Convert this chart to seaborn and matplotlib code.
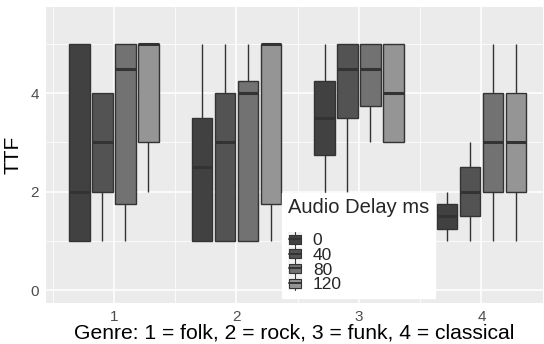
import numpy as np
import pandas as pd
import matplotlib
matplotlib.use("Agg")
import matplotlib.pyplot as plt
import seaborn as sns
from matplotlib.ticker import MultipleLocator
from matplotlib.patches import Patch, Rectangle
from matplotlib.lines import Line2D
from matplotlib.legend_handler import HandlerBase

# Genre codes and audio delay levels
genres = [1, 2, 3, 4]
delays = ["0", "40", "80", "120"]

# Five-number summaries (min, Q1, median, Q3, max) of TTF per genre, one list per delay
ttf_delay_0 = [[1, 1, 2, 5, 5], [1, 1, 2.5, 3.5, 5], [1, 2.75, 3.5, 4.25, 5], [1, 1.25, 1.5, 1.75, 2]]
ttf_delay_40 = [[1, 2, 3, 4, 4], [1, 1, 3, 4, 5], [2, 3.5, 4.5, 5, 5], [1, 1.5, 2, 2.5, 3]]
ttf_delay_80 = [[1, 1.75, 4.5, 5, 5], [1, 1, 4, 4.25, 5], [3, 3.75, 4.5, 5, 5], [1, 2, 3, 4, 5]]
ttf_delay_120 = [[2, 3, 5, 5, 5], [1, 1.75, 5, 5, 5], [3, 3, 4, 5, 5], [1, 2, 3, 4, 5]]

series = {"0": ttf_delay_0, "40": ttf_delay_40, "80": ttf_delay_80, "120": ttf_delay_120}

rows = []
for d in delays:
    for g, vals in zip(genres, series[d]):
        for v in vals:
            rows.append({"genre": str(g), "delay": d, "ttf": v})
df = pd.DataFrame(rows)

sns.set_theme(style="darkgrid", rc={"axes.facecolor": "#ebebeb", "grid.color": "white"})
plt.rcParams["font.family"] = ["Liberation Sans", "DejaVu Sans"]

EDGE = "#333333"


class BoxKeyHandler(HandlerBase):
    """Legend key drawn as a tiny boxplot glyph."""

    def create_artists(self, legend, orig_handle, xdescent, ydescent,
                       width, height, fontsize, trans):
        x0, y0 = -xdescent, -ydescent
        bg = Rectangle((x0, y0 - 0.1 * height), width, 1.2 * height,
                       facecolor="#f2f2f2", edgecolor="none", transform=trans)
        whisk = Line2D([x0 + width / 2] * 2, [y0 - 0.1 * height, y0 + 1.1 * height],
                       color=EDGE, lw=0.8, transform=trans)
        box = Rectangle((x0 + 0.12 * width, y0 + 0.12 * height), 0.76 * width, 0.76 * height,
                        facecolor=orig_handle.get_facecolor(), edgecolor=EDGE,
                        lw=0.8, transform=trans)
        med = Line2D([x0 + 0.12 * width, x0 + 0.88 * width], [y0 + height / 2] * 2,
                     color=EDGE, lw=1.4, transform=trans)
        return [bg, whisk, box, med]


fig = plt.figure(figsize=(5.44, 3.44), dpi=100)
ax = fig.add_axes([46 / 544, 1 - 303 / 344, 496.7 / 544, 295.7 / 344])

palette = ["#414141", "#535353", "#727272", "#959595"]
sns.boxplot(
    data=df, x="genre", y="ttf", hue="delay", hue_order=delays,
    order=[str(g) for g in genres], palette=palette, saturation=1,
    width=0.75, gap=0.1, linecolor=EDGE, linewidth=1.0,
    medianprops={"linewidth": 2.2, "color": EDGE},
    whiskerprops={"linewidth": 1.0}, capprops={"linewidth": 0},
    showcaps=False, fliersize=2, ax=ax, zorder=3, legend=False,
)

ax.set_xlim(-0.555, 3.5)
ax.set_ylim(-0.264, 5.746)
ax.set_yticks([0, 2, 4])
ax.yaxis.set_minor_locator(MultipleLocator(1))
ax.set_xticks([0, 1, 2, 3])
ax.set_xticks([-0.5, 0.5, 1.5, 2.5, 3.5], minor=True)
ax.grid(which="major", color="white", linewidth=1.1)
ax.grid(which="minor", color="white", linewidth=0.55)
ax.set_axisbelow(True)
for s in ax.spines.values():
    s.set_visible(False)

ax.tick_params(axis="both", which="major", length=3, width=0.8, color=EDGE,
               labelcolor="#4d4d4d", labelsize=11, pad=2)
ax.tick_params(axis="both", which="minor", length=0)
ax.set_xticklabels([str(g) for g in genres])

ax.set_ylabel("TTF", fontsize=15, color="black", labelpad=6)
ax.set_xlabel("Genre: 1 = folk, 2 = rock, 3 = funk, 4 = classical", fontsize=15.2,
              color="black", labelpad=0)

handles = [Patch(facecolor=c) for c in palette]
leg = ax.legend(handles=handles, labels=delays, handler_map={Patch: BoxKeyHandler()},
                title="Audio Delay ms\n", loc="lower left", bbox_to_anchor=(0.475, 0.017),
                frameon=True, fontsize=12.5, title_fontsize=14.5, handlelength=0.85,
                handleheight=0.68, labelspacing=-0.02, handletextpad=0.6,
                borderpad=0.33, borderaxespad=0, alignment="left")
leg.get_title().set_linespacing(0.8)
leg.get_frame().set_facecolor("white")
leg.get_frame().set_edgecolor("white")
leg.get_frame().set_alpha(1)
leg.get_frame().set_boxstyle("square", pad=0)
leg.set_zorder(10)

fig.savefig("out.png", dpi=100)
